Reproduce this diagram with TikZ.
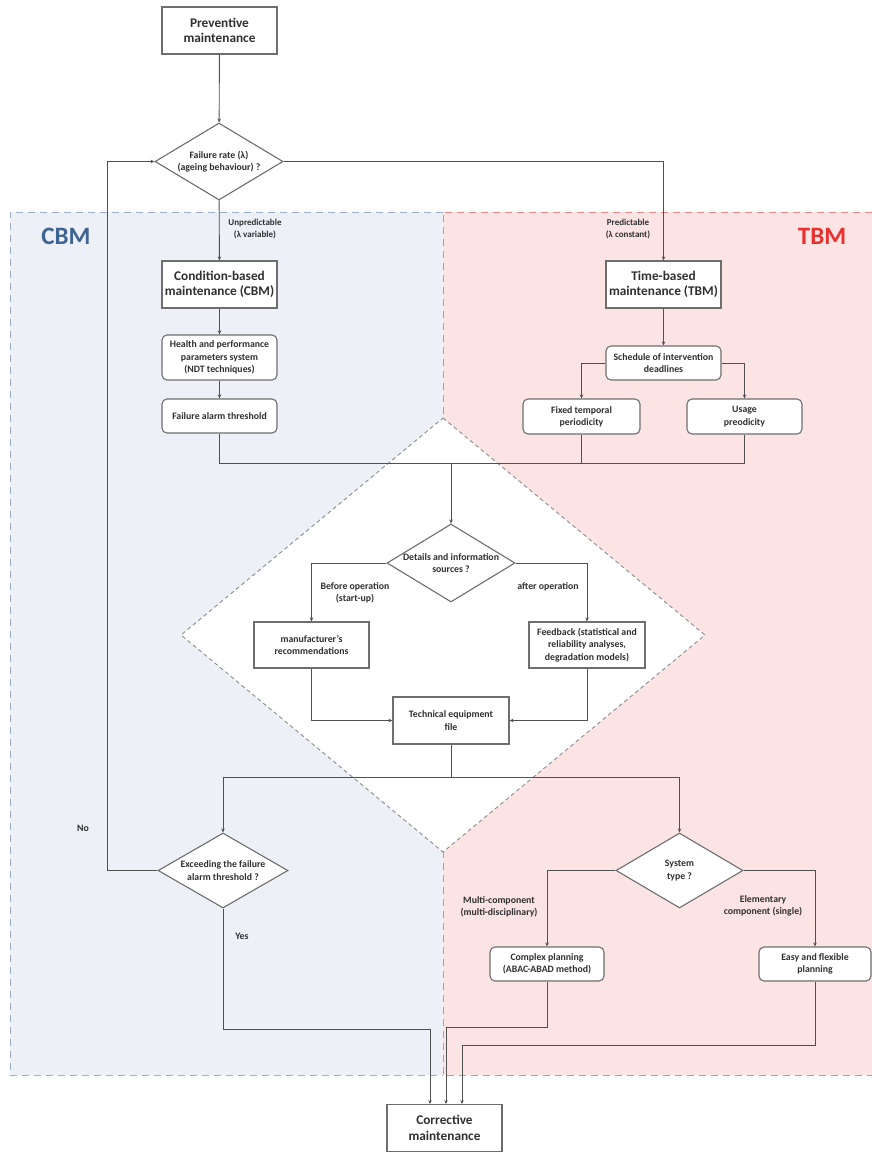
\documentclass[tikz,border=0pt]{standalone}
\usepackage{fontspec}
\setmainfont{Carlito}
\usetikzlibrary{shapes.geometric,arrows.meta}

\definecolor{cbmfill}{HTML}{EDF0F6}
\definecolor{cbmline}{HTML}{9AAED0}
\definecolor{cbmtext}{HTML}{3F6494}
\definecolor{tbmfill}{HTML}{FCE4E4}
\definecolor{tbmline}{HTML}{EE8585}
\definecolor{tbmtext}{HTML}{E8302E}
\definecolor{wire}{HTML}{505050}
\definecolor{frame}{HTML}{6E6E6E}
\definecolor{ink}{HTML}{303030}
\definecolor{zone}{HTML}{8C8C8C}

\tikzset{
  bigbox/.style={rectangle, draw=frame, line width=1.1pt, fill=white,
    minimum width=115pt, minimum height=47pt, inner sep=0pt, align=center,
    text=ink, font=\fontsize{13.3}{15.6}\selectfont\bfseries},
  roundbox/.style={rectangle, rounded corners=5pt, draw=frame, line width=1.1pt, fill=white,
    minimum width=115pt, minimum height=34pt, inner sep=0pt, align=center,
    text=ink, font=\fontsize{9.8}{12.2}\selectfont\bfseries},
  sharpbox/.style={rectangle, draw=frame, line width=1.1pt, fill=white,
    minimum width=115pt, minimum height=46pt, inner sep=0pt, align=center,
    text=ink, font=\fontsize{9.8}{12.2}\selectfont\bfseries},
  decision/.style={diamond, draw=frame, line width=1.1pt, fill=white, aspect=1.66,
    minimum width=128pt, minimum height=77pt, inner sep=0pt, align=center,
    text=ink, font=\fontsize{9.8}{12.2}\selectfont\bfseries},
  flow/.style={draw=wire, line width=0.9pt, -{Stealth[length=4pt,width=3.5pt]}},
  link/.style={draw=wire, line width=0.9pt},
  lbl/.style={inner sep=0pt, align=center, text=ink, font=\fontsize{9.8}{12.2}\selectfont\bfseries},
  tag/.style={inner sep=0pt, font=\fontsize{25}{30}\selectfont\bfseries},
}

\begin{document}
\begin{tikzpicture}[x=1pt, y=-1pt]
\useasboundingbox (0,0) rectangle (872,1152);

% coloured regions
\fill[cbmfill] (10,212) rectangle (443,1075);
\fill[tbmfill] (443,212) rectangle (872,1075);
\draw[cbmline, line width=0.9pt, dash pattern=on 7pt off 5pt] (443,212) -- (10,212) -- (10,1075) -- (443,1075);
\draw[tbmline, line width=0.9pt, dash pattern=on 7pt off 5pt] (872,212) -- (443,212) -- (443,1075) -- (872,1075);

% information-source zone
\draw[zone, fill=white, line width=0.9pt, dash pattern=on 4pt off 3pt]
  (443,418) -- (705,635) -- (443,852) -- (181,635) -- cycle;

\node[tag, text=cbmtext] (cbmtag) at (66,236) {CBM};
\node[tag, text=tbmtext] (tbmtag) at (822,236) {TBM};

% nodes
\node[bigbox] (prev) at (219.5,30.5) {Preventive\\maintenance};
\node[decision] (rate) at (219,161.5) {Failure rate (λ)\\(ageing behaviour) ?};
\node[bigbox] (cbm) at (219.5,284.5) {Condition-based\\maintenance (CBM)};
\node[roundbox, minimum height=45pt] (health) at (219.5,357.5) {Health and performance\\parameters system\\(NDT techniques)};
\node[roundbox] (alarm) at (219.5,416) {Failure alarm threshold};
\node[bigbox] (tbm) at (663.5,284.5) {Time-based\\maintenance (TBM)};
\node[roundbox] (sched) at (663.5,363) {Schedule of intervention\\deadlines};
\node[roundbox, minimum width=117pt, minimum height=35pt] (fixed) at (581.5,416.5) {Fixed temporal\\periodicity};
\node[roundbox, minimum height=35pt] (usage) at (744.5,416.5) {Usage\\preodicity};
\node[decision, minimum height=78pt] (details) at (451,563) {Details and information\\sources ?};
\node[sharpbox] (manuf) at (311.5,645) {manufacturer's\\recommendations};
\node[sharpbox, minimum width=116pt] (feedback) at (587,645) {Feedback (statistical and\\reliability analyses,\\degradation models)};
\node[sharpbox, minimum width=116pt, minimum height=47pt] (techfile) at (451,720.5) {Technical equipment\\file};
\node[decision, minimum width=130pt, minimum height=75pt] (exceed) at (223,870.5) {Exceeding the failure\\alarm threshold ?};
\node[decision, minimum width=127pt, minimum height=75pt] (systype) at (679.5,870.5) {System\\type ?};
\node[roundbox, minimum width=114pt] (complex) at (547,964) {Complex planning\\(ABAC-ABAD method)};
\node[roundbox, minimum width=112pt] (easy) at (815,964) {Easy and flexible\\planning};
\node[bigbox] (corrective) at (444.5,1128) {Corrective\\maintenance};

% connector labels
\node[lbl, font=\fontsize{9}{11.5}\selectfont\bfseries] (unpred) at (255,229) {Unpredictable\\(λ variable)};
\node[lbl, font=\fontsize{9}{11.5}\selectfont\bfseries] (pred) at (628,229) {Predictable\\(λ constant)};
\node[lbl] (before) at (355,593) {Before operation\\(start-up)};
\node[lbl] (after) at (548,587) {after operation};
\node[lbl] (multi) at (499,907) {Multi-component\\(multi-disciplinary)};
\node[lbl] (single) at (763,906) {Elementary\\component (single)};
\node[lbl] (nolbl) at (83,828) {No};
\node[lbl] (yeslbl) at (242,936) {Yes};

% junction points
\coordinate (bus) at (451,463);
\coordinate (split) at (451,777);
\coordinate (loop) at (107,870.5);
\coordinate (yesbend) at (430,1029);
\coordinate (multibend) at (446,1027);
\coordinate (singlebend) at (462,1045);

% connectors
\draw[flow] (prev) -- (rate);
\draw[flow] (rate) -- (cbm);
\draw[flow] (rate.east) -| (tbm.north);
\draw[flow] (cbm) -- (health);
\draw[flow] (health) -- (alarm);
\draw[flow] (tbm) -- (sched);
\draw[flow] (sched.west) -| (fixed.north);
\draw[flow] (sched.east) -| (usage.north);
\draw[link] (alarm.south) |- (bus);
\draw[link] (fixed.south) |- (bus);
\draw[link] (usage.south) |- (bus);
\draw[flow] (bus) -- (details.north);
\draw[flow] (details.west) -| (manuf.north);
\draw[flow] (details.east) -| (feedback.north);
\draw[flow] (manuf.south) |- (techfile.west);
\draw[flow] (feedback.south) |- (techfile.east);
\draw[link] (techfile.south) -- (split);
\draw[flow] (split) -| (exceed.north);
\draw[flow] (split) -| (systype.north);
\draw[flow] (exceed.west) -- (loop) |- (rate.west);
\draw[flow] (exceed.south) |- (yesbend) -- (yesbend |- corrective.north);
\draw[flow] (systype.west) -| (complex.north);
\draw[flow] (systype.east) -| (easy.north);
\draw[flow] (complex.south) |- (multibend) -- (multibend |- corrective.north);
\draw[flow] (easy.south) |- (singlebend) -- (singlebend |- corrective.north);
\end{tikzpicture}
\end{document}
